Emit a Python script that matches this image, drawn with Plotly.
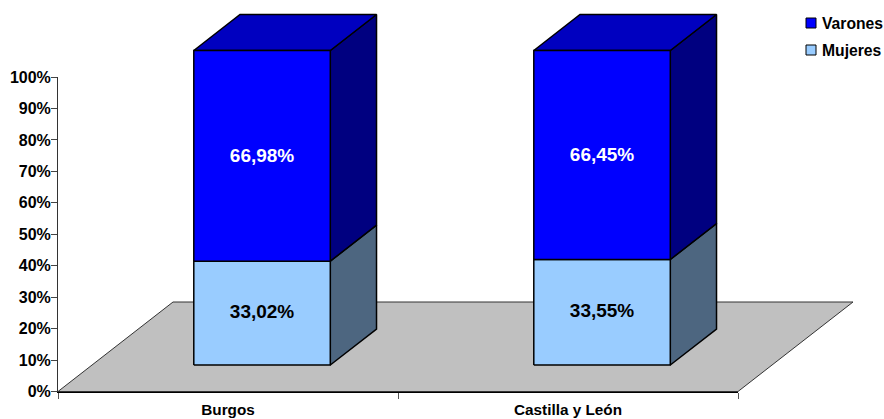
import plotly.graph_objects as go

categories = ["Burgos", "Castilla y León"]
series_names = ["Mujeres", "Varones"]
mujeres = [33.02, 33.55]
varones = [66.98, 66.45]

FONT = "Liberation Sans, Arial, sans-serif"
W, H = 884, 419
L, R, T, B = 58, 738, 77, 391.5
X_UNIT = (R - L) / 2          # px per category
Y_UNIT = (B - T) / 100        # px per percent
FLOOR_DX = 115 / X_UNIT       # depth vector in data units
FLOOR_DY = 89.5 / Y_UNIT
BAR_W = 136.5 / X_UNIT
Z0, Z1 = 0.296, 0.698


def proj(x, y, z):
    return x + z * FLOOR_DX, y + z * FLOOR_DY


def poly(points, fill, line=1.5, color="#000000"):
    xs, ys = zip(*[proj(*p) for p in points])
    return go.Scatter(
        x=list(xs) + [xs[0]], y=list(ys) + [ys[0]], mode="lines", fill="toself",
        fillcolor=fill, line=dict(color=color, width=line),
        hoverinfo="skip", showlegend=False,
    )


def label(x, y, val, col):
    lx, ly = proj(x, y, Z0)
    return go.Scatter(x=[lx], y=[ly], mode="text", text=[f"<b>{val:.2f}%</b>".replace(".", ",")],
                      textfont=dict(family=FONT, size=19, color=col),
                      textposition="middle center", hoverinfo="skip", showlegend=False)


fig = go.Figure()
# floor
fig.add_trace(poly([(0, 0, 0), (2, 0, 0), (2, 0, 1), (0, 0, 1)], "#C0C0C0", line=1, color="#333333"))

for i, cat in enumerate(categories):
    cx = i + 0.5
    a, b = cx - BAR_W / 2, cx + BAR_W / 2
    m, v = mujeres[i], varones[i]
    top = m + v
    fig.add_trace(poly([(b, 0, Z0), (b, 0, Z1), (b, m, Z1), (b, m, Z0)], "#4D6680"))
    fig.add_trace(poly([(a, 0, Z0), (b, 0, Z0), (b, m, Z0), (a, m, Z0)], "#99CCFF"))
    fig.add_trace(poly([(b, m, Z0), (b, m, Z1), (b, top, Z1), (b, top, Z0)], "#000080"))
    fig.add_trace(poly([(a, top, Z0), (b, top, Z0), (b, top, Z1), (a, top, Z1)], "#0000C0"))
    fig.add_trace(poly([(a, m, Z0), (b, m, Z0), (b, top, Z0), (a, top, Z0)], "#0000FF"))
    fig.add_trace(label(cx, m / 2 + 0.1, m, "#000000"))
    fig.add_trace(label(cx, m + v / 2 - 0.3, v, "#FFFFFF"))

# visible axes carry an invisible anchor trace
fig.add_trace(go.Scatter(x=[0.5, 1.5], y=[0, 0], mode="markers", marker=dict(opacity=0),
                         xaxis="x2", yaxis="y2", hoverinfo="skip", showlegend=False))

# legend drawn to match the original's tight swatch-to-text gap
shapes, annotations = [], []
for name, color, py in [("Varones", "#0000FF", 23), ("Mujeres", "#99CCFF", 50)]:
    shapes.append(dict(type="rect", xref="paper", yref="paper",
                       x0=806 / W, x1=816 / W, y0=1 - (py + 5) / H, y1=1 - (py - 5) / H,
                       fillcolor=color, line=dict(color="#000000", width=1)))
    annotations.append(dict(xref="paper", yref="paper", x=819.5 / W, y=1 - py / H,
                            text=f"<b>{name}</b>", showarrow=False, xanchor="left", yanchor="middle",
                            font=dict(family=FONT, size=15.7, color="#000000")))

fig.update_layout(
    template="none",
    width=W, height=H, margin=dict(l=0, r=0, t=0, b=0, pad=0),
    paper_bgcolor="#FFFFFF", plot_bgcolor="rgba(0,0,0,0)", showlegend=False,
    shapes=shapes, annotations=annotations,
    xaxis=dict(range=[-L / X_UNIT, (W - L) / X_UNIT], domain=[0, 1], visible=False, automargin=False),
    yaxis=dict(range=[-(H - B) / Y_UNIT, B / Y_UNIT], domain=[0, 1], visible=False, automargin=False),
    xaxis2=dict(domain=[L / W, R / W], anchor="y2", range=[0, 2], tickvals=[0.5, 1.5],
                ticktext=[f"<b>{c}</b>" for c in categories], automargin=False,
                ticks="", showgrid=False, zeroline=False, showline=True, linecolor="#000000", linewidth=1,
                tickfont=dict(family=FONT, size=15.3, color="#000000"), ticklabelstandoff=4,
                minor=dict(tickvals=[0, 1, 2], ticks="outside", ticklen=6, tickcolor="#555555", tickwidth=1, showgrid=False)),
    yaxis2=dict(domain=[(H - B) / H, (H - T) / H], anchor="x2", range=[0, 100], automargin=False,
                tickvals=list(range(0, 101, 10)), ticktext=[f"<b>{t}%</b>" for t in range(0, 101, 10)],
                ticks="outside", ticklen=6, tickcolor="#444444", showgrid=False, zeroline=False,
                showline=True, linecolor="#333333", linewidth=1,
                tickfont=dict(family=FONT, size=16, color="#000000"), ticklabelstandoff=-3),
)
fig.write_html("out.html", config=dict(displayModeBar=False),
               post_script="document.body.style.margin='0';")
